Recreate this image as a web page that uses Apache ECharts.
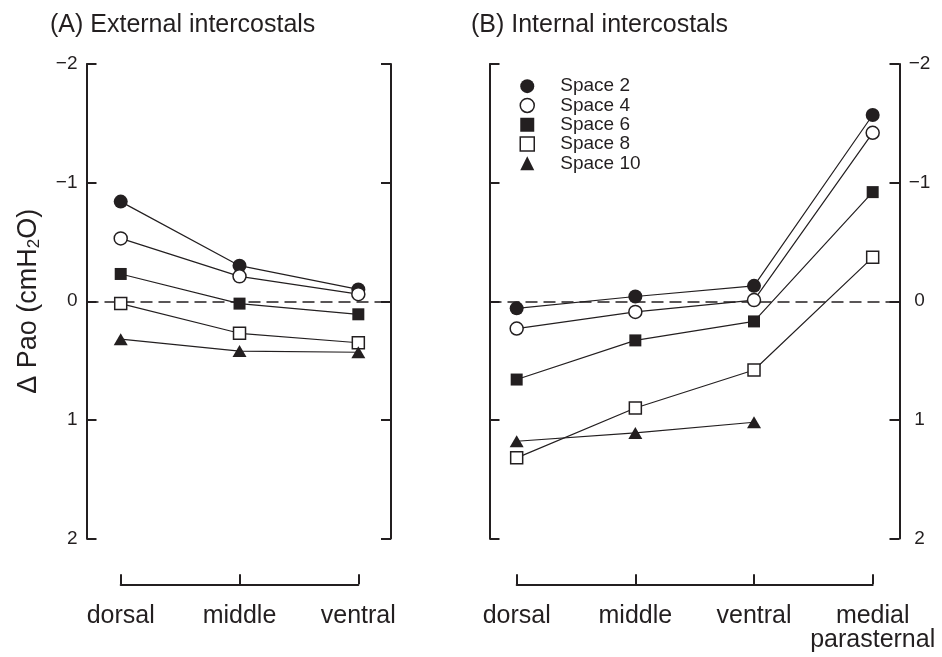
<!DOCTYPE html>
<html>
<head>
<meta charset="utf-8">
<script src="https://cdn.jsdelivr.net/npm/echarts@6/dist/echarts.min.js"></script>
<style>
html,body{margin:0;padding:0;background:#fff;}
#chart{width:942px;height:657px;}
</style>
</head>
<body>
<div id="chart"></div>
<script>
// ---- data ----
const catsA = ['dorsal', 'middle', 'ventral'];
const catsB = ['dorsal', 'middle', 'ventral', 'medial\nparasternal'];
const spaceNames = ['Space 2', 'Space 4', 'Space 6', 'Space 8', 'Space 10'];
const yTickLabels = ['\u22122', '\u22121', '0', '1', '2'];

// (A) External intercostals, ΔPao (cmH2O)
const extSpace2  = [-0.84, -0.30, -0.10];
const extSpace4  = [-0.53, -0.21, -0.06];
const extSpace6  = [-0.23,  0.02,  0.11];
const extSpace8  = [ 0.02,  0.27,  0.35];
const extSpace10 = [ 0.32,  0.42,  0.43];

// (B) Internal intercostals, ΔPao (cmH2O)
const intSpace2  = [ 0.06, -0.04, -0.13, -1.57];
const intSpace4  = [ 0.23,  0.09, -0.01, -1.42];
const intSpace6  = [ 0.66,  0.33,  0.17, -0.92];
const intSpace8  = [ 1.32,  0.90,  0.58, -0.37];
const intSpace10 = [ 1.18,  1.11,  1.02, null];

// ---- styling ----
const INK = '#231f20';
const FONT = "'Liberation Sans', Arial, Helvetica, sans-serif";
const markerStyles = [
  { symbol: 'circle',   size: 14,       itemStyle: { color: INK, borderWidth: 0 } },
  { symbol: 'circle',   size: 13,       itemStyle: { color: '#fff', borderColor: INK, borderWidth: 1.5 } },
  { symbol: 'rect',     size: 12,       itemStyle: { color: INK, borderWidth: 0 } },
  { symbol: 'rect',     size: 12,       itemStyle: { color: '#fff', borderColor: INK, borderWidth: 1.5 } },
  { symbol: 'triangle', size: [14, 12], itemStyle: { color: INK, borderWidth: 0 } }
];
const extData = [extSpace2, extSpace4, extSpace6, extSpace8, extSpace10];
const intData = [intSpace2, intSpace4, intSpace6, intSpace8, intSpace10];

function makeSeries(vals, k, xIdx, yIdx, withZero) {
  const st = markerStyles[k];
  const s = {
    name: spaceNames[k],
    type: 'line',
    xAxisIndex: xIdx,
    yAxisIndex: yIdx,
    data: vals.map((v, i) => [i, v == null ? '-' : v]),
    symbol: st.symbol,
    symbolSize: st.size,
    showAllSymbol: true,
    itemStyle: st.itemStyle,
    lineStyle: { color: INK, width: 1.2 },
    emphasis: { disabled: true },
    z: 3
  };
  if (withZero) {
    s.markLine = {
      silent: true,
      symbol: ['none', 'none'],
      label: { show: false },
      z: 2,
      lineStyle: { color: INK, width: 1.5, type: [12, 6] },
      data: [{ yAxis: 0 }]
    };
  }
  return s;
}

const series = [];
extData.forEach((v, k) => series.push(makeSeries(v, k, 0, 0, k === 0)));
intData.forEach((v, k) => series.push(makeSeries(v, k, 1, 2, k === 0)));

const axisLineStyle = { color: INK, width: 2 };
function yAxisDef(gridIndex, position, showLabels, extra) {
  return Object.assign({
    type: 'value',
    gridIndex: gridIndex,
    position: position,
    inverse: true,
    min: -2, max: 2, interval: 1,
    axisLine: { show: true, onZero: false, lineStyle: axisLineStyle },
    axisTick: { show: true, inside: true, length: 10, lineStyle: axisLineStyle },
    splitLine: { show: false },
    axisLabel: {
      show: showLabels,
      color: INK, fontSize: 19, fontFamily: FONT, margin: 9,
      formatter: v => yTickLabels[Math.round(v) + 2]
    }
  }, extra || {});
}

const option = {
  animation: false,
  backgroundColor: '#fff',
  textStyle: { fontFamily: FONT, color: INK },
  title: [
    { text: '(A) External intercostals', left: 50, top: 13, padding: 0,
      textStyle: { fontSize: 25, fontWeight: 'normal', color: INK, fontFamily: FONT } },
    { text: '(B) Internal intercostals', left: 471, top: 13, padding: 0,
      textStyle: { fontSize: 25, fontWeight: 'normal', color: INK, fontFamily: FONT } }
  ],
  legend: {
    orient: 'vertical',
    left: 519.5, top: 76.5,
    padding: 0,
    itemWidth: 14, itemHeight: 14, itemGap: 0,
    symbolKeepAspect: true,
    selectedMode: true,
    textStyle: { fontSize: 19, fontFamily: FONT, color: INK, lineHeight: 19.3, padding: [0, 0, 0, 21] },
    data: spaceNames.map((n, k) => ({
      name: n,
      icon: markerStyles[k].symbol,
      itemStyle: markerStyles[k].itemStyle
    }))
  },
  grid: [
    { left: 86.5, right: 942 - 391, top: 64, bottom: 657 - 538.5, containLabel: false },
    { left: 489.5, right: 942 - 899.5, top: 64, bottom: 657 - 538.5, containLabel: false },
    { left: 120.7, right: 942 - 358.3, top: 574, bottom: 657 - 584.3, containLabel: false },
    { left: 516.7, right: 942 - 872.7, top: 574, bottom: 657 - 584.3, containLabel: false }
  ],
  xAxis: [
    { type: 'value', gridIndex: 0, min: -0.288, max: 2.275, show: false },
    { type: 'value', gridIndex: 1, min: -0.229, max: 3.226, show: false },
    { type: 'category', gridIndex: 2, data: catsA, boundaryGap: false, position: 'bottom',
      axisLine: { show: true, onZero: false, lineStyle: axisLineStyle },
      axisTick: { show: true, inside: true, length: 10, interval: 0, lineStyle: axisLineStyle },
      axisLabel: { interval: 0, fontSize: 25, fontFamily: FONT, color: INK, margin: 20, lineHeight: 24 },
      splitLine: { show: false } },
    { type: 'category', gridIndex: 3, data: catsB, boundaryGap: false, position: 'bottom',
      axisLine: { show: true, onZero: false, lineStyle: axisLineStyle },
      axisTick: { show: true, inside: true, length: 10, interval: 0, lineStyle: axisLineStyle },
      axisLabel: { interval: 0, fontSize: 25, fontFamily: FONT, color: INK, margin: 20, lineHeight: 24 },
      splitLine: { show: false } }
  ],
  yAxis: [
    yAxisDef(0, 'left', true, {
      name: '{t|\u0394 Pao (cmH}{s|2}{t|O)}',
      nameLocation: 'middle',
      nameRotate: 90,
      nameGap: 44,
      nameTextStyle: {
        rich: {
          t: { fontSize: 27, fontFamily: FONT, color: INK },
          s: { fontSize: 17, fontFamily: FONT, color: INK, padding: [11, 0, 0, 0] }
        }
      }
    }),
    yAxisDef(0, 'right', false),
    yAxisDef(1, 'left', false),
    yAxisDef(1, 'right', true, { axisLabel: {
      show: true, color: INK, fontSize: 19, fontFamily: FONT, margin: 20, align: 'center',
      formatter: v => yTickLabels[Math.round(v) + 2] } }),
    { type: 'value', gridIndex: 2, min: 0, max: 1, show: false },
    { type: 'value', gridIndex: 3, min: 0, max: 1, show: false }
  ],
  series: series
};

const chart = echarts.init(document.getElementById('chart'), null, { renderer: 'canvas' });
chart.setOption(option);
</script>
</body>
</html>
